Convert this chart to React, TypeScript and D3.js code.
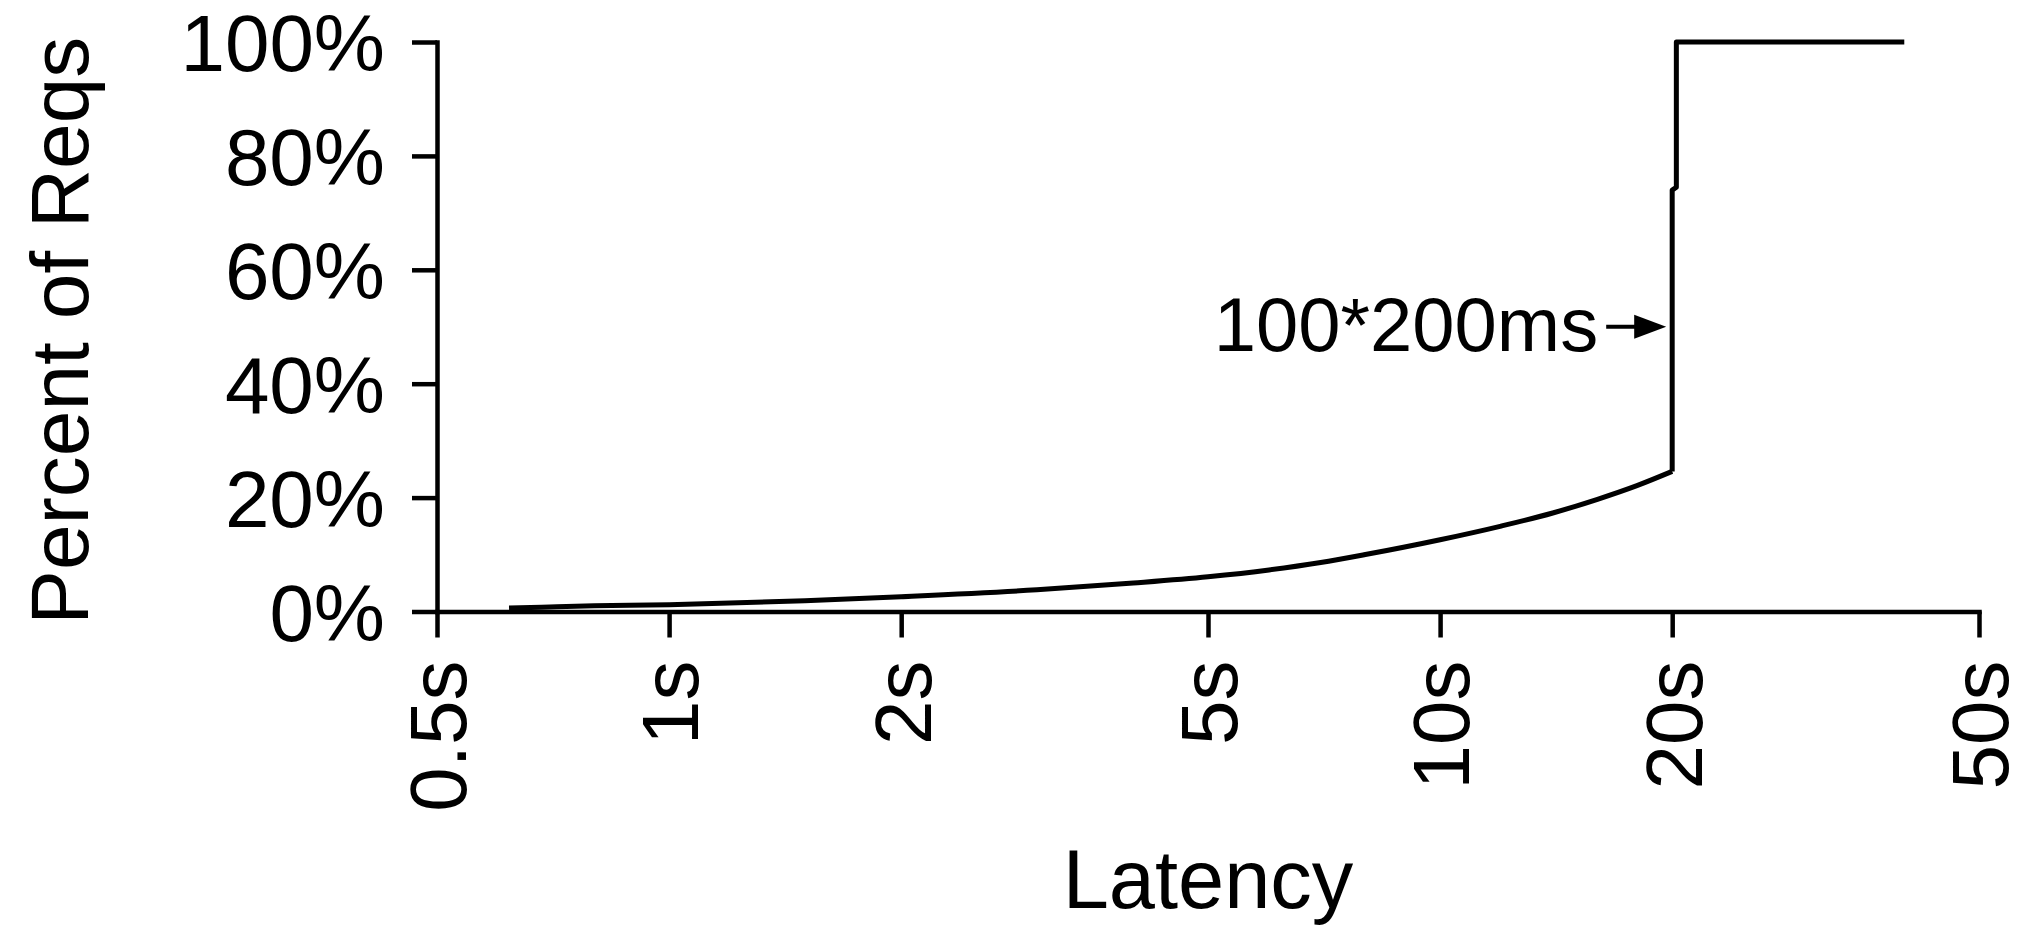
import React, { useEffect, useRef } from 'react'
import * as d3 from 'd3'

// x ticks (seconds, log scale)
const xTickValues = [0.5, 1, 2, 5, 10, 20, 50]
const xTickLabels = ['0.5s', '1s', '2s', '5s', '10s', '20s', '50s']

// y ticks (percent)
const yTickValues = [0, 20, 40, 60, 80, 100]
const yTickLabels = ['0%', '20%', '40%', '60%', '80%', '100%']

// smooth part of the CDF
const curveLatency = [0.62, 0.7, 0.8, 1, 1.5, 2, 3, 4, 5, 6, 7, 8, 10, 12, 14, 16, 18, 20]
const curvePercent = [0.6, 0.8, 1.0, 1.2, 1.9, 2.6, 3.8, 5.0, 6.1, 7.3, 8.6, 10.0, 12.6, 15.0, 17.3, 19.7, 22.1, 24.6]

// the jump at 20s and the flat top
const stepLatency = [20, 20, 20.25, 20.25, 40]
const stepPercent = [24.6, 74, 74.5, 100, 100]

const annotationText = '100*200ms'
const annotationLatency = 20
const annotationPercent = 50

const FONT = '"Liberation Sans", Arial, Helvetica, sans-serif'

const App = () => {
  const ref = useRef(null)

  useEffect(() => {
    const svg = d3.select(ref.current)
    svg.selectAll('*').remove()

    const width = 2025
    const height = 927

    const x = d3.scaleLog().domain([0.5, 50]).range([437, 1979])
    const y = d3.scaleLinear().domain([0, 100]).range([611.5, 42])

    svg.attr('width', width).attr('height', height)

    // y axis
    const yAxis = svg
      .append('g')
      .attr('transform', `translate(${x(0.5)},0)`)
      .call(d3.axisLeft(y).tickValues(yTickValues).tickSize(25).tickSizeOuter(0).tickFormat((d, i) => yTickLabels[i]))
    yAxis.select('.domain').attr('stroke', '#000').attr('stroke-width', 4.5)
    yAxis.selectAll('.tick line').attr('stroke', '#000').attr('stroke-width', 4.5)
    yAxis
      .selectAll('.tick text')
      .attr('x', -52)
      .attr('dy', '0.36em')
      .attr('fill', '#000')
      .style('font-family', FONT)
      .style('font-size', '80px')

    // x axis
    const xAxis = svg
      .append('g')
      .attr('transform', `translate(0,${y(0)})`)
      .call(d3.axisBottom(x).tickValues(xTickValues).tickSize(26).tickSizeOuter(0).tickFormat((d, i) => xTickLabels[i]))
    xAxis.select('.domain').attr('stroke', '#000').attr('stroke-width', 4.5)
    xAxis.selectAll('.tick line').attr('stroke', '#000').attr('stroke-width', 4.5)
    xAxis
      .selectAll('.tick text')
      .attr('x', 0)
      .attr('y', 0)
      .attr('dy', '0.36em')
      .attr('transform', 'translate(0,49) rotate(-90)')
      .attr('text-anchor', 'end')
      .attr('fill', '#000')
      .style('font-family', FONT)
      .style('font-size', '80px')

    svg.selectAll('.domain').attr('stroke-linecap', 'square')

    // curve
    const smooth = d3
      .line()
      .x((d) => x(d[0]))
      .y((d) => y(d[1]))
      .curve(d3.curveMonotoneX)
    const straight = d3
      .line()
      .x((d) => x(d[0]))
      .y((d) => y(d[1]))

    svg
      .append('path')
      .datum(curveLatency.map((v, i) => [v, curvePercent[i]]))
      .attr('d', smooth)
      .attr('fill', 'none')
      .attr('stroke', '#000')
      .attr('stroke-width', 5)

    svg
      .append('path')
      .datum(stepLatency.map((v, i) => [v, stepPercent[i]]))
      .attr('d', straight)
      .attr('fill', 'none')
      .attr('stroke', '#000')
      .attr('stroke-width', 5)
      .attr('stroke-linejoin', 'round')

    // annotation with arrow
    const ay = y(annotationPercent)
    const tipX = x(annotationLatency) - 6
    svg
      .append('line')
      .attr('x1', tipX - 60)
      .attr('x2', tipX - 20)
      .attr('y1', ay)
      .attr('y2', ay)
      .attr('stroke', '#000')
      .attr('stroke-width', 4)
    svg
      .append('path')
      .attr('d', `M${tipX},${ay} L${tipX - 32},${ay - 12} L${tipX - 32},${ay + 12} Z`)
      .attr('fill', '#000')
    svg
      .append('text')
      .attr('x', tipX - 68)
      .attr('y', ay + 24)
      .attr('text-anchor', 'end')
      .style('font-family', FONT)
      .style('font-size', '76px')
      .text(annotationText)

    // axis titles
    svg
      .append('text')
      .attr('transform', `translate(${(x(0.5) + x(50)) / 2},908)`)
      .attr('text-anchor', 'middle')
      .style('font-family', FONT)
      .style('font-size', '83px')
      .text('Latency')

    svg
      .append('text')
      .attr('transform', `translate(88,${(y(0) + y(100)) / 2 + 4}) rotate(-90)`)
      .attr('text-anchor', 'middle')
      .style('font-family', FONT)
      .style('font-size', '82px')
      .text('Percent of Reqs')
  }, [])

  return <svg ref={ref} style={{ position: 'absolute', left: 0, top: 0, background: '#fff' }}></svg>
}

export default App
